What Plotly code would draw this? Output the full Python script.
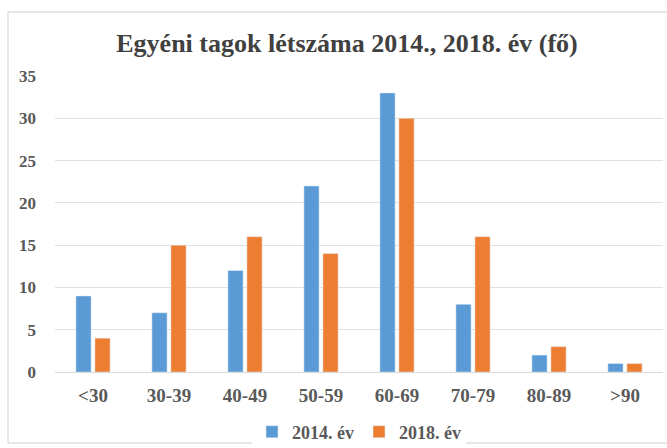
import plotly.graph_objects as go

categories = ["<30", "30-39", "40-49", "50-59", "60-69", "70-79", "80-89", ">90"]
values_2014 = [9, 7, 12, 22, 33, 8, 2, 1]
values_2018 = [4, 15, 16, 14, 30, 16, 3, 1]
series_names = ["2014. év", "2018. év"]

W, H = 667, 448
L, R, T, B = 55, 4, 76, 76
pw, ph = W - L - R, H - T - B

fig = go.Figure()
fig.add_bar(x=categories, y=values_2014, name=series_names[0], marker_color="#5b9bd5")
fig.add_bar(x=categories, y=values_2018, name=series_names[1], marker_color="#ed7d31")

fig.update_layout(
    width=W, height=H,
    margin=dict(l=L, r=R, t=T, b=B, autoexpand=False),
    paper_bgcolor="white", plot_bgcolor="white",
    font=dict(family="Liberation Serif, Times New Roman, serif", color="#595959"),
    title=dict(text="<b>Egyéni tagok létszáma 2014., 2018. év (fő)</b>",
               x=347 / W, xanchor="center", y=1 - 43 / H, yanchor="middle",
               font=dict(size=26, color="#404040")),
    barmode="group", bargap=0.5, bargroupgap=0.2,
    legend=dict(orientation="h", x=0.5, xanchor="center", y=-(432 - 372) / ph, yanchor="middle",
                font=dict(size=18, color="#595959", weight="bold"), itemwidth=30),
    xaxis=dict(showline=True, linecolor="#d9d9d9", tickfont=dict(size=19, weight="bold"), ticks="",
               ticklabelstandoff=6),
    yaxis=dict(range=[0, 35], dtick=5, showgrid=True, gridcolor="#e0e0e0",
               zeroline=False, tickfont=dict(size=17, weight="bold"), ticks="", ticklabelstandoff=18),
    shapes=[dict(type="rect", xref="paper", yref="paper",
                 x0=(8 - L) / pw, x1=(W + 5 - L) / pw,
                 y0=-(H - 5 - (H - B)) / ph, y1=1 + (T - 12) / ph,
                 line=dict(color="#d0d0d0", width=1))],
)
fig.write_html("out.html", config={"displayModeBar": False},
               post_script="document.body.style.margin='0';document.body.style.overflow='hidden';")
